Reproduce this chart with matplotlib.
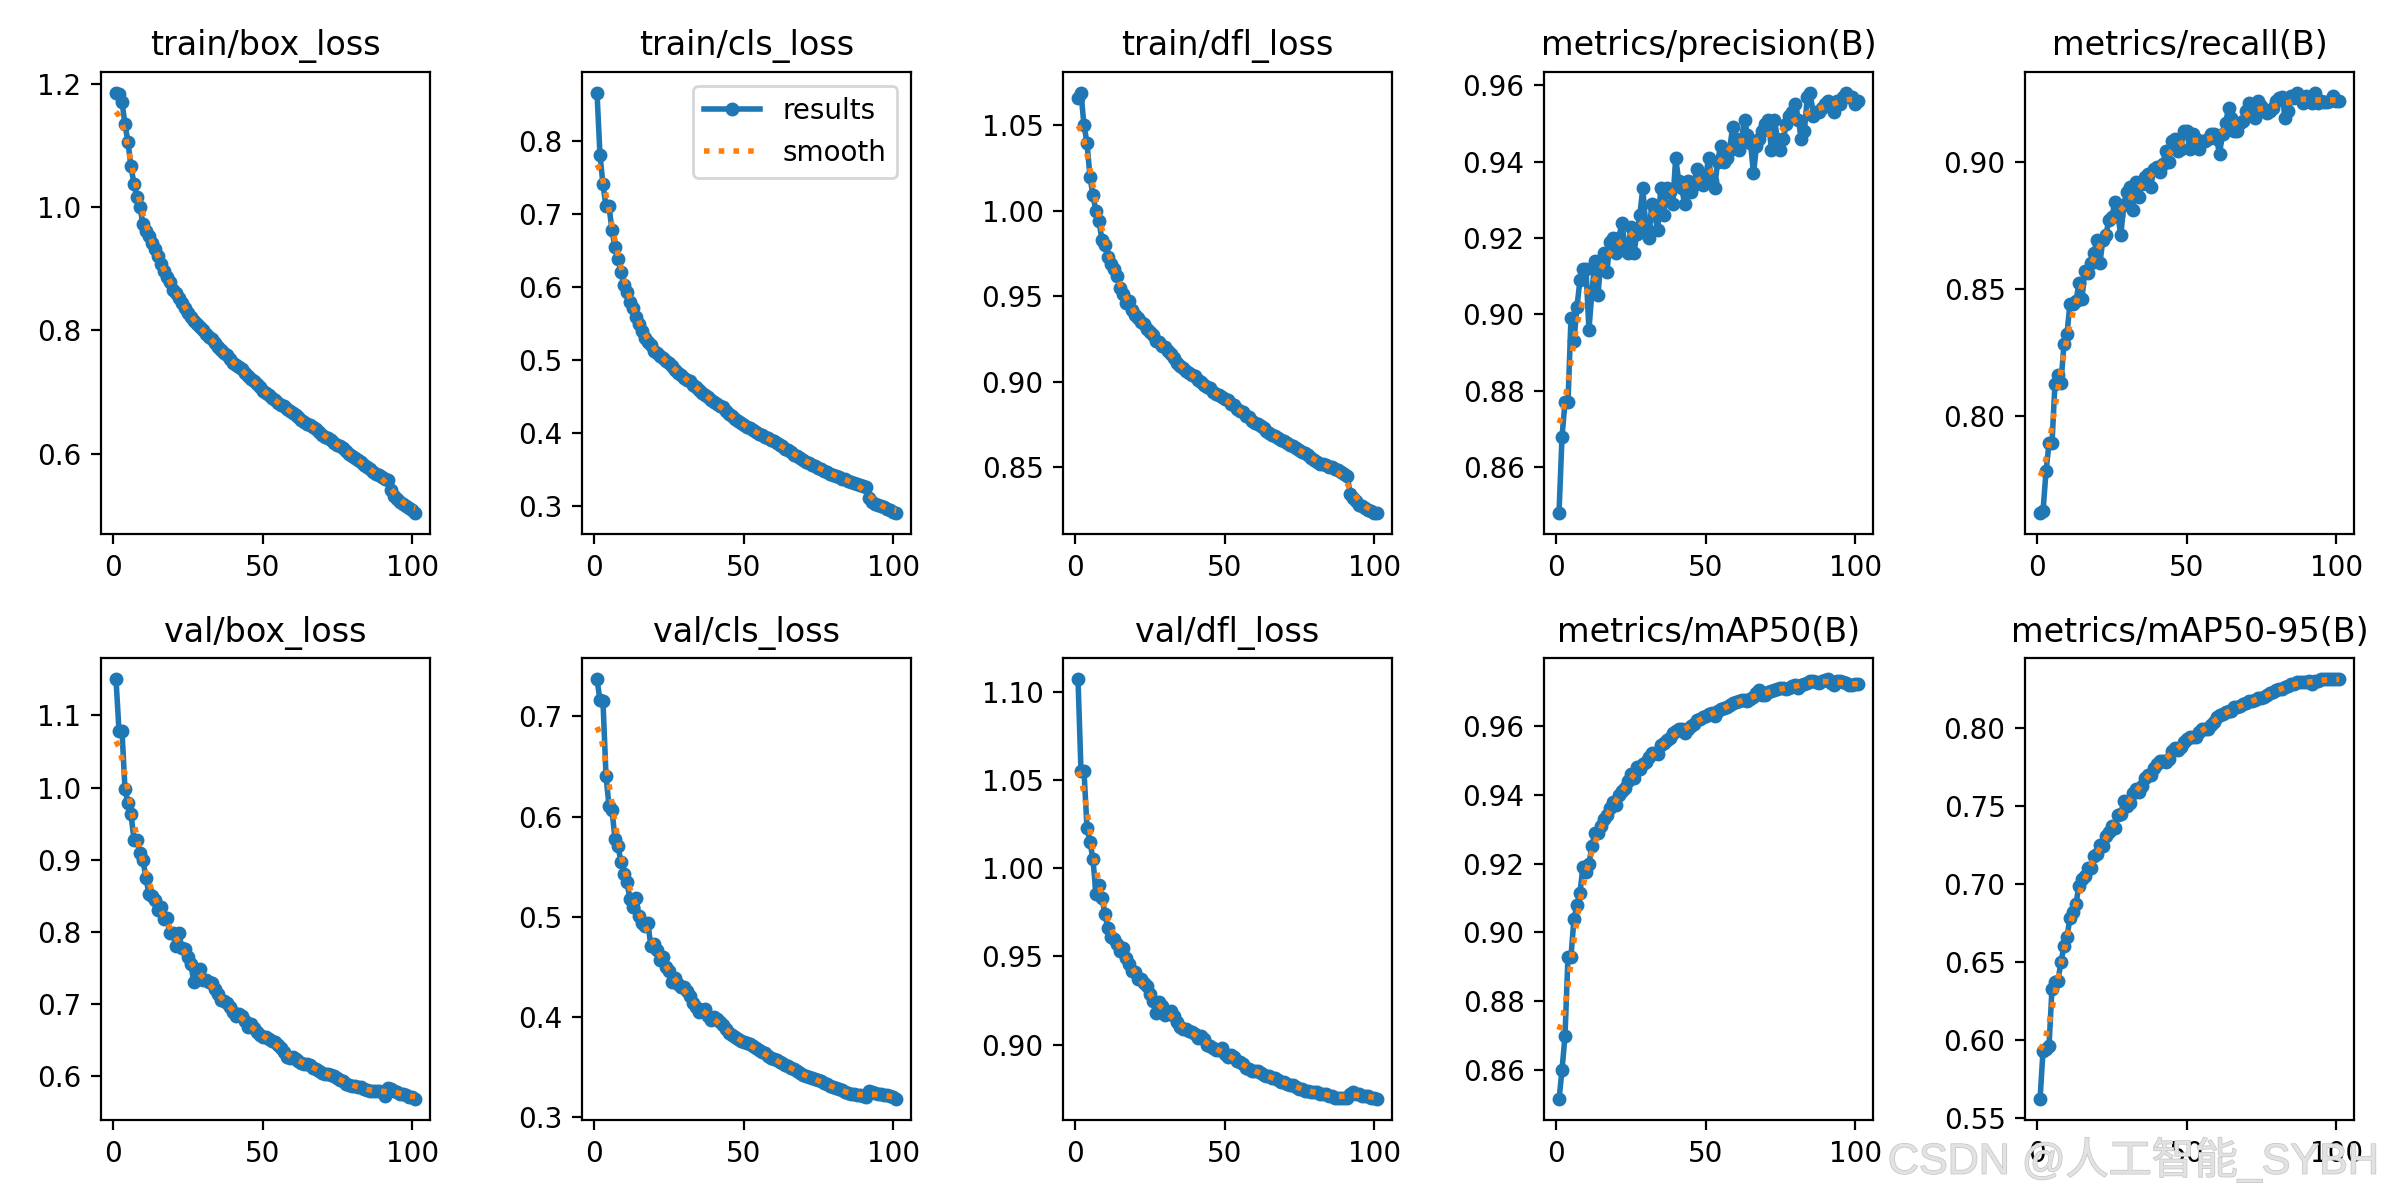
import numpy as np
import matplotlib
matplotlib.use("Agg")
import matplotlib.pyplot as plt
import matplotlib.patheffects as pe
from matplotlib.ticker import MultipleLocator

# epochs 1..101
epochs = list(range(1, 102))

train_box_loss = [
    1.185, 1.184, 1.171, 1.134, 1.106, 1.066, 1.038, 1.016, 1.000, 0.973,
    0.962, 0.953, 0.942, 0.932, 0.920, 0.907, 0.897, 0.887, 0.878, 0.866,
    0.861, 0.852, 0.845, 0.836, 0.829, 0.822, 0.816, 0.811, 0.806, 0.800,
    0.795, 0.790, 0.786, 0.779, 0.773, 0.769, 0.764, 0.760, 0.754, 0.748,
    0.744, 0.741, 0.737, 0.731, 0.726, 0.722, 0.718, 0.713, 0.708, 0.702,
    0.699, 0.695, 0.691, 0.687, 0.683, 0.680, 0.677, 0.673, 0.669, 0.666,
    0.663, 0.659, 0.655, 0.652, 0.649, 0.646, 0.643, 0.640, 0.635, 0.631,
    0.628, 0.625, 0.622, 0.618, 0.614, 0.612, 0.609, 0.605, 0.600, 0.596,
    0.594, 0.590, 0.586, 0.582, 0.578, 0.575, 0.571, 0.568, 0.565, 0.562,
    0.560, 0.557, 0.541, 0.532, 0.526, 0.522, 0.519, 0.516, 0.512, 0.509,
    0.504]

train_cls_loss = [
    0.865, 0.780, 0.740, 0.710, 0.710, 0.678, 0.654, 0.638, 0.621, 0.602,
    0.593, 0.580, 0.571, 0.559, 0.549, 0.540, 0.530, 0.525, 0.520, 0.513,
    0.510, 0.506, 0.503, 0.499, 0.496, 0.492, 0.487, 0.483, 0.480, 0.476,
    0.473, 0.471, 0.466, 0.463, 0.459, 0.455, 0.453, 0.450, 0.446, 0.443,
    0.440, 0.437, 0.436, 0.431, 0.426, 0.423, 0.420, 0.417, 0.414, 0.411,
    0.409, 0.407, 0.405, 0.402, 0.399, 0.397, 0.395, 0.393, 0.391, 0.389,
    0.387, 0.384, 0.382, 0.379, 0.377, 0.374, 0.371, 0.369, 0.366, 0.363,
    0.361, 0.359, 0.357, 0.355, 0.353, 0.351, 0.349, 0.347, 0.345, 0.343,
    0.342, 0.340, 0.338, 0.337, 0.335, 0.334, 0.332, 0.331, 0.329, 0.328,
    0.327, 0.311, 0.306, 0.304, 0.302, 0.300, 0.299, 0.297, 0.295, 0.293,
    0.291]

train_dfl_loss = [
    1.066, 1.069, 1.050, 1.040, 1.020, 1.009, 1.000, 0.994, 0.983, 0.980,
    0.973, 0.969, 0.966, 0.962, 0.955, 0.951, 0.946, 0.947, 0.942, 0.939,
    0.937, 0.935, 0.934, 0.931, 0.929, 0.927, 0.924, 0.923, 0.921, 0.920,
    0.918, 0.916, 0.914, 0.911, 0.909, 0.908, 0.906, 0.905, 0.904, 0.903,
    0.901, 0.900, 0.898, 0.897, 0.896, 0.894, 0.893, 0.892, 0.891, 0.890,
    0.889, 0.887, 0.886, 0.884, 0.883, 0.882, 0.880, 0.879, 0.877, 0.876,
    0.875, 0.874, 0.873, 0.871, 0.870, 0.869, 0.868, 0.867, 0.866, 0.865,
    0.864, 0.863, 0.862, 0.861, 0.860, 0.859, 0.858, 0.857, 0.855, 0.854,
    0.853, 0.852, 0.852, 0.851, 0.850, 0.850, 0.849, 0.848, 0.847, 0.846,
    0.845, 0.834, 0.832, 0.830, 0.828, 0.827, 0.826, 0.825, 0.824, 0.823,
    0.823]

precision = [
    0.848, 0.868, 0.877, 0.877, 0.899, 0.893, 0.902, 0.909, 0.912, 0.912,
    0.896, 0.906, 0.914, 0.905, 0.914, 0.916, 0.911, 0.919, 0.920, 0.916,
    0.920, 0.924, 0.918, 0.916, 0.923, 0.916, 0.921, 0.926, 0.933, 0.923,
    0.920, 0.929, 0.926, 0.922, 0.933, 0.926, 0.933, 0.932, 0.929, 0.941,
    0.935, 0.933, 0.929, 0.935, 0.932, 0.934, 0.938, 0.935, 0.934, 0.936,
    0.941, 0.935, 0.933, 0.940, 0.944, 0.940, 0.941, 0.943, 0.949, 0.946,
    0.943, 0.946, 0.951, 0.947, 0.945, 0.937, 0.944, 0.946, 0.948, 0.950,
    0.951, 0.943, 0.951, 0.946, 0.943, 0.946, 0.950, 0.952, 0.953, 0.955,
    0.951, 0.946, 0.948, 0.957, 0.958, 0.952, 0.953, 0.953, 0.954, 0.955,
    0.956, 0.955, 0.953, 0.956, 0.955, 0.957, 0.958, 0.957, 0.957, 0.955,
    0.956]

recall = [
    0.7616, 0.7623, 0.778, 0.789, 0.789, 0.8126, 0.816, 0.813, 0.828, 0.832,
    0.844, 0.844, 0.845, 0.852, 0.846, 0.857, 0.856, 0.860, 0.864, 0.869,
    0.860, 0.869, 0.871, 0.877, 0.878, 0.884, 0.879, 0.871, 0.883, 0.888,
    0.890, 0.881, 0.892, 0.886, 0.891, 0.894, 0.895, 0.890, 0.897, 0.898,
    0.896, 0.899, 0.904, 0.900, 0.908, 0.909, 0.904, 0.905, 0.912, 0.912,
    0.905, 0.911, 0.909, 0.905, 0.908, 0.908, 0.909, 0.911, 0.911, 0.909,
    0.903, 0.911, 0.915, 0.921, 0.917, 0.912, 0.912, 0.915, 0.916, 0.920,
    0.923, 0.922, 0.917, 0.924, 0.922, 0.920, 0.919, 0.920, 0.921, 0.924,
    0.925, 0.9255, 0.917, 0.920, 0.926, 0.925, 0.927, 0.925, 0.923, 0.926,
    0.924, 0.923, 0.927, 0.923, 0.924, 0.9235, 0.9235, 0.924, 0.926, 0.924,
    0.924]

val_box_loss = [
    1.150, 1.079, 1.079, 0.998, 0.979, 0.964, 0.928, 0.928, 0.910, 0.900,
    0.875, 0.853, 0.850, 0.845, 0.830, 0.835, 0.818, 0.820, 0.798, 0.798,
    0.781, 0.798, 0.778, 0.776, 0.766, 0.756, 0.731, 0.746, 0.749, 0.734,
    0.734, 0.731, 0.729, 0.721, 0.714, 0.706, 0.704, 0.701, 0.696, 0.689,
    0.684, 0.687, 0.684, 0.676, 0.669, 0.672, 0.667, 0.662, 0.657, 0.654,
    0.654, 0.652, 0.649, 0.647, 0.644, 0.639, 0.634, 0.627, 0.625, 0.627,
    0.624, 0.621, 0.619, 0.617, 0.617, 0.616, 0.612, 0.610, 0.607, 0.605,
    0.603, 0.603, 0.602, 0.600, 0.598, 0.595, 0.593, 0.590, 0.588, 0.587,
    0.586, 0.585, 0.585, 0.583, 0.581, 0.580, 0.580, 0.579, 0.579, 0.578,
    0.573, 0.584, 0.582, 0.580, 0.578, 0.576, 0.575, 0.574, 0.572, 0.571,
    0.568]

val_cls_loss = [
    0.737, 0.716, 0.715, 0.641, 0.611, 0.607, 0.578, 0.571, 0.555, 0.543,
    0.535, 0.518, 0.510, 0.519, 0.501, 0.494, 0.491, 0.494, 0.471, 0.473,
    0.467, 0.457, 0.460, 0.450, 0.446, 0.435, 0.439, 0.433, 0.430, 0.430,
    0.426, 0.421, 0.414, 0.410, 0.405, 0.407, 0.408, 0.401, 0.397, 0.400,
    0.398, 0.395, 0.392, 0.388, 0.384, 0.382, 0.380, 0.378, 0.376, 0.375,
    0.374, 0.373, 0.371, 0.369, 0.367, 0.365, 0.364, 0.361, 0.359, 0.358,
    0.357, 0.355, 0.354, 0.352, 0.351, 0.349, 0.348, 0.346, 0.344, 0.342,
    0.341, 0.340, 0.339, 0.338, 0.337, 0.336, 0.334, 0.333, 0.331, 0.330,
    0.329, 0.328, 0.327, 0.325, 0.324, 0.323, 0.323, 0.322, 0.322, 0.321,
    0.320, 0.326, 0.325, 0.324, 0.323, 0.323, 0.322, 0.322, 0.321, 0.320,
    0.318]

val_dfl_loss = [
    1.107, 1.055, 1.055, 1.023, 1.015, 1.005, 0.9855, 0.9905, 0.983, 0.974,
    0.966, 0.961, 0.960, 0.957, 0.953, 0.955, 0.949, 0.946, 0.942, 0.941,
    0.937, 0.937, 0.935, 0.933, 0.929, 0.925, 0.918, 0.924, 0.922, 0.917,
    0.918, 0.919, 0.916, 0.913, 0.910, 0.909, 0.909, 0.908, 0.907, 0.906,
    0.904, 0.905, 0.903, 0.900, 0.899, 0.898, 0.897, 0.897, 0.898, 0.895,
    0.893, 0.894, 0.893, 0.891, 0.890, 0.889, 0.887, 0.886, 0.885, 0.885,
    0.885, 0.884, 0.883, 0.882, 0.882, 0.881, 0.881, 0.880, 0.879, 0.879,
    0.878, 0.877, 0.877, 0.876, 0.875, 0.875, 0.874, 0.874, 0.873, 0.873,
    0.873, 0.872, 0.872, 0.872, 0.871, 0.871, 0.870, 0.870, 0.870, 0.870,
    0.870, 0.872, 0.873, 0.872, 0.872, 0.871, 0.871, 0.871, 0.870, 0.870,
    0.869]

map50 = [
    0.8515, 0.860, 0.870, 0.893, 0.893, 0.904, 0.908, 0.9115, 0.919, 0.9176,
    0.920, 0.925, 0.929, 0.929, 0.931, 0.933, 0.934, 0.936, 0.938, 0.937,
    0.940, 0.941, 0.942, 0.944, 0.946, 0.945, 0.948, 0.9475, 0.949, 0.9495,
    0.951, 0.952, 0.952, 0.9517, 0.9545, 0.955, 0.9558, 0.9564, 0.958, 0.9584,
    0.959, 0.959, 0.958, 0.959, 0.960, 0.9605, 0.9616, 0.962, 0.9626, 0.963,
    0.9633, 0.9636, 0.963, 0.9644, 0.9649, 0.9652, 0.9654, 0.966, 0.9666, 0.967,
    0.9673, 0.9675, 0.9676, 0.9673, 0.9678, 0.9683, 0.9694, 0.9704, 0.969, 0.9689,
    0.9697, 0.970, 0.9704, 0.9707, 0.971, 0.971, 0.9707, 0.9711, 0.9715, 0.9718,
    0.9711, 0.9718, 0.9722, 0.9725, 0.973, 0.973, 0.9727, 0.9725, 0.973, 0.9733,
    0.9735, 0.9725, 0.972, 0.973, 0.973, 0.9727, 0.9725, 0.9718, 0.9718, 0.9723,
    0.9722]

map50_95 = [
    0.562, 0.593, 0.594, 0.596, 0.633, 0.637, 0.638, 0.650, 0.660, 0.666,
    0.678, 0.682, 0.687, 0.699, 0.703, 0.705, 0.710, 0.710, 0.718, 0.719,
    0.725, 0.724, 0.731, 0.733, 0.737, 0.736, 0.744, 0.745, 0.753, 0.750,
    0.752, 0.758, 0.761, 0.759, 0.763, 0.768, 0.770, 0.770, 0.774, 0.777,
    0.779, 0.779, 0.778, 0.780, 0.785, 0.787, 0.786, 0.788, 0.791, 0.793,
    0.794, 0.794, 0.794, 0.797, 0.799, 0.799, 0.799, 0.802, 0.804, 0.807,
    0.808, 0.809, 0.810, 0.811, 0.811, 0.813, 0.813, 0.814, 0.815, 0.816,
    0.817, 0.817, 0.818, 0.819, 0.819, 0.820, 0.821, 0.822, 0.823, 0.824,
    0.825, 0.825, 0.826, 0.827, 0.828, 0.828, 0.829, 0.829, 0.829, 0.829,
    0.830, 0.828, 0.830, 0.830, 0.831, 0.831, 0.831, 0.831, 0.831, 0.831,
    0.831]

titles = ["train/box_loss", "train/cls_loss", "train/dfl_loss",
          "metrics/precision(B)", "metrics/recall(B)",
          "val/box_loss", "val/cls_loss", "val/dfl_loss",
          "metrics/mAP50(B)", "metrics/mAP50-95(B)"]
series = [train_box_loss, train_cls_loss, train_dfl_loss, precision, recall,
          val_box_loss, val_cls_loss, val_dfl_loss, map50, map50_95]
# tick spacing where the reference uses a coarser step than auto
ytick_step = {0: 0.2, 4: 0.05}


def gauss_smooth(y, sigma=3):
    # same as scipy gaussian_filter1d with mode='reflect'
    r = int(4 * sigma + 0.5)
    k = np.exp(-0.5 * (np.arange(-r, r + 1) / sigma) ** 2)
    k /= k.sum()
    yp = np.pad(np.asarray(y, dtype=float), r, mode="symmetric")
    return np.convolve(yp, k, mode="valid")


fig, ax = plt.subplots(2, 5, figsize=(12, 6))
fig.subplots_adjust(left=0.0421, right=0.9809, top=0.940, bottom=0.0663,
                    wspace=0.4616, hspace=0.269)
ax = ax.ravel()
x = np.array(epochs)
for i, (t, y) in enumerate(zip(titles, series)):
    ax[i].plot(x, y, marker=".", label="results", linewidth=2, markersize=8)
    ax[i].plot(x, gauss_smooth(y), ":", label="smooth", linewidth=2)
    ax[i].set_title(t, fontsize=12)
    if i in ytick_step:
        ax[i].yaxis.set_major_locator(MultipleLocator(ytick_step[i]))
ax[1].legend()

# watermark from the source image
wm = fig.text(0.991, 0.033, "CSDN @人工智能_SYBH", ha="right", va="center",
              fontsize=15.5, color="#e2e2e2",
              family=["Liberation Sans", "Noto Sans CJK SC"])
wm.set_path_effects([pe.withStroke(linewidth=0.5, foreground="#c4c4c4")])

fig.savefig("out.png", dpi=200)
